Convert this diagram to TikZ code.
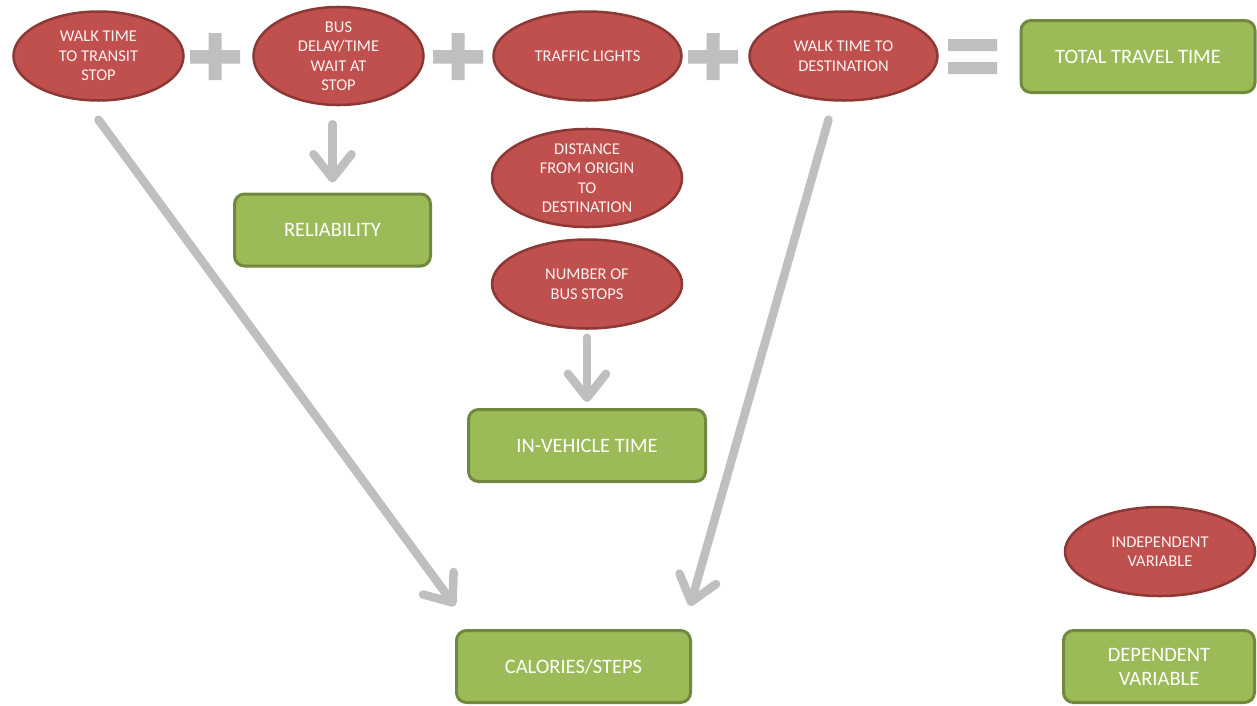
\documentclass[tikz,border=0pt]{standalone}
\usepackage{fontspec}
\setmainfont{Carlito}
\usetikzlibrary{shapes.geometric,arrows.meta}

\definecolor{varred}{HTML}{C0504D}
\definecolor{varredline}{HTML}{8C3836}
\definecolor{vargreen}{HTML}{9BBB59}
\definecolor{vargreenline}{HTML}{71893F}
\definecolor{signgray}{HTML}{BFBFBF}

\tikzset{
  indepvar/.style={ellipse, fill=varred, draw=varredline, line width=2.5pt,
    text=white!92!varred, align=center, inner sep=0pt, minimum height=89pt,
    font=\fontsize{16.5}{19.5}\selectfont},
  depvar/.style={rectangle, rounded corners=10pt, fill=vargreen, draw=vargreenline,
    line width=3pt, text=white, align=center, minimum height=72pt,
    font=\fontsize{20.5}{24}\selectfont},
  flow/.style={signgray, line width=8.5pt, line cap=round,
    -{Straight Barb[length=24pt,width=38pt,round]}}
}

\begin{document}
\begin{tikzpicture}[x=1pt,y=-1pt]
            \useasboundingbox (0,0) rectangle (1257,705);

            %sum of travel time
            \node[indepvar, minimum width=170pt] (walkstop) at (98.5,56) {WALK TIME\\TO TRANSIT\\STOP};

            \node[indepvar, minimum width=170pt] (buswait) at (338.5,56) {BUS\\DELAY/TIME\\WAIT AT\\STOP};

            \node[indepvar, minimum width=188pt] (lights) at (587.5,56) {TRAFFIC LIGHTS};

            \node[indepvar, minimum width=188pt] (walkdest) at (843.5,56) {WALK TIME TO\\DESTINATION};

            \node[depvar, minimum width=234pt] (total) at (1138,56.5) {TOTAL TRAVEL TIME};

            %plus and equal signs
            \fill[signgray] (190,50) rectangle (240,63.5) (208.5,33) rectangle (221.5,80);

            \fill[signgray] (433,50) rectangle (483,63.5) (451.5,33) rectangle (464.5,80);

            \fill[signgray] (688,50) rectangle (738,63.5) (706.5,33) rectangle (719.5,80);

            \fill[signgray] (948,39) rectangle (997,51) (948,62) rectangle (997,74);

            %middle column
            \node[indepvar, minimum width=190pt] (distance) at (587,178) {DISTANCE\\FROM ORIGIN\\TO\\DESTINATION};

            \node[indepvar, minimum width=190pt] (nstops) at (587,284) {NUMBER OF\\BUS STOPS};

            \node[depvar, minimum width=237pt] (invehicle) at (587,445.5) {IN-VEHICLE TIME};

            \node[depvar, minimum width=196pt] (reliability) at (332.5,230) {RELIABILITY};

            \node[depvar, minimum width=234pt] (calories) at (573.5,666.5) {CALORIES/STEPS};

            %legend
            \node[indepvar, minimum width=190pt] (legindep) at (1160,551.5) {INDEPENDENT\\VARIABLE};

            \node[depvar, minimum width=191pt] (legdep) at (1159,666.5) {DEPENDENT\\VARIABLE};

            %arrows
            \draw[flow] (reliability.north |- buswait.south) ++(0,18) -- ([yshift=10pt]reliability.north);

            \draw[flow] (nstops.south) ++(0,8) -- ([yshift=6pt]invehicle.north);

            \draw[flow] ([yshift=-18pt]walkstop.south) -- ([yshift=23pt]calories.north west);

            \draw[flow] ([shift={(-15pt,-18pt)}]walkdest.south) -- ([shift={(-2pt,23pt)}]calories.north east);
        \end{tikzpicture}
\end{document}
